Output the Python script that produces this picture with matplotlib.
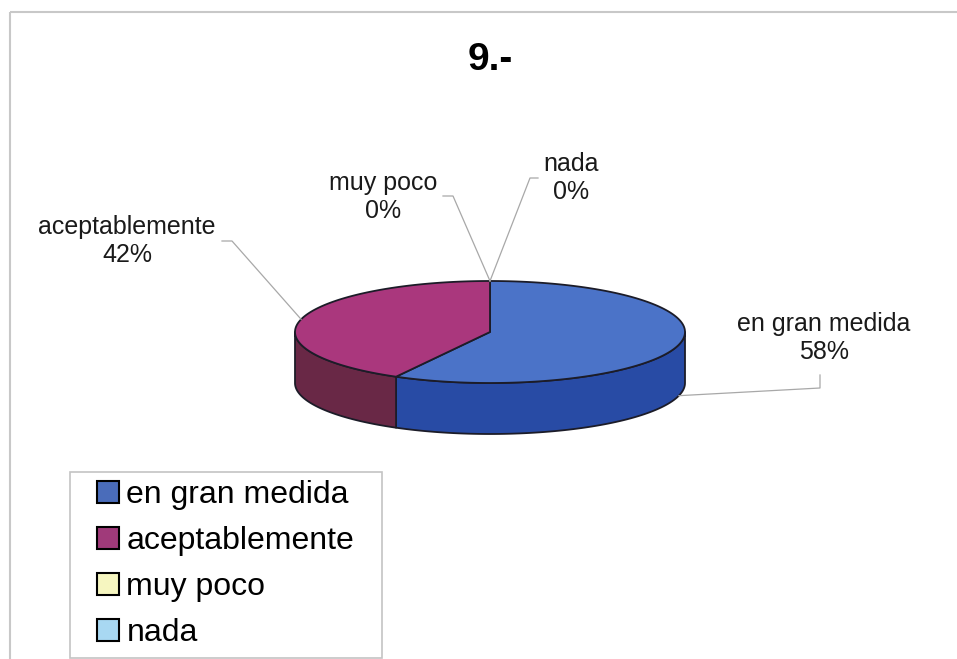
import numpy as np
import matplotlib
matplotlib.use('Agg')
import matplotlib.pyplot as plt
from matplotlib.patches import Polygon, Rectangle

plt.rcParams['font.family'] = ['Liberation Sans', 'DejaVu Sans']

title = '9.-'
categories = ['en gran medida', 'aceptablemente', 'muy poco', 'nada']
percentages = [58, 42, 0, 0]
top_colors = ['#4b73c8', '#aa377d', '#ffffcc', '#ccffff']
side_colors = ['#284ba5', '#692846', '#c8c89a', '#9acccc']
legend_colors = ['#4a6cba', '#a03a7a', '#f6f6c0', '#a8d8f2']

# label text centres and the short leader stub next to each label (pixels)
label_pos = [(824, 338), (127, 241), (383, 197), (571, 178)]
stubs = [[(820, 375), (820, 388)],
         [(222, 241), (232, 241)],
         [(443, 196), (453, 196)],
         [(538, 178), (530, 178)]]

# pie centre, semi-axes and thickness, in pixels
cx, cy, a, b, depth = 490, 332, 195, 51, 51
edge = '#1c1c28'


def rim(t, drop=0):
    t = np.radians(t)
    return np.column_stack([cx + a * np.cos(t), cy - b * np.sin(t) + drop])


fig = plt.figure(figsize=(9.57, 6.59), dpi=100)
ax = fig.add_axes([0, 0, 1, 1])
ax.set_xlim(0, 957)
ax.set_ylim(659, 0)
ax.axis('off')

# outer chart frame
ax.add_patch(Rectangle((10, 12), 1000, 700, fill=False, edgecolor='#c8c8c8', lw=1.5))

ax.text(cx, 60, title, ha='center', va='center', fontsize=28, fontweight='bold')

# slices start at 12 o'clock and run clockwise
cum = np.concatenate([[0], np.cumsum(percentages)]) / 100.0
t_hi = 90 - 360 * cum[:-1]
t_lo = 90 - 360 * cum[1:]

# front walls first
for i in range(len(categories)):
    lo, hi = max(t_lo[i], -180), min(t_hi[i], 0)
    if percentages[i] == 0 or hi <= lo:
        continue
    ts = np.linspace(lo, hi, 80)
    pts = np.vstack([rim(ts), rim(ts[::-1], depth)])
    ax.add_patch(Polygon(pts, closed=True, facecolor=side_colors[i],
                         edgecolor=edge, lw=1.3, joinstyle='round'))

# top faces
for i in range(len(categories)):
    if percentages[i] == 0:
        continue
    ts = np.linspace(t_lo[i], t_hi[i], 160)
    pts = np.vstack([[[cx, cy]], rim(ts)])
    ax.add_patch(Polygon(pts, closed=True, facecolor=top_colors[i],
                         edgecolor=edge, lw=1.3, joinstyle='round'))

# data labels with leader lines
for i, cat in enumerate(categories):
    mid = (t_lo[i] + t_hi[i]) / 2
    drop = depth if np.sin(np.radians(mid)) < 0 else 0
    anchor = rim([mid], drop)[0]
    (x0, y0), (x1, y1) = stubs[i]
    ax.plot([x0, x1, anchor[0]], [y0, y1, anchor[1]], color='#a8a8a8', lw=0.9)
    lx, ly = label_pos[i]
    ax.text(lx, ly, '%s\n%d%%' % (cat, percentages[i]), ha='center', va='center',
            fontsize=18, linespacing=1.2, color='#1a1a1a')

# legend
ax.add_patch(Rectangle((70, 472), 312, 186, fill=False, edgecolor='#c4c4c4', lw=1.2))
handles = [Rectangle((0, 0), 1, 1, facecolor=c, edgecolor='black', lw=1.5) for c in legend_colors]
fig.legend(handles, categories, loc='upper left', bbox_to_anchor=(97 / 957, 1 - 480 / 659),
           frameon=False, fontsize=23, handlelength=0.7, handleheight=0.7,
           handletextpad=0.22, labelspacing=0.5, borderpad=0, borderaxespad=0)

fig.savefig('out.png', dpi=100)
